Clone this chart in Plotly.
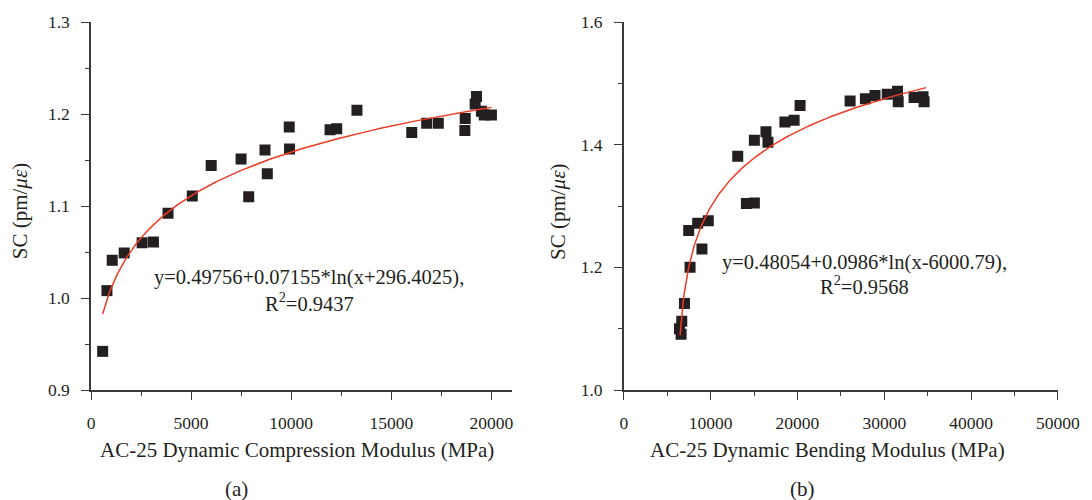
import numpy as np
import plotly.graph_objects as go

# ---------- data ----------
a_modulus = [582, 796, 1060, 1657, 2553, 3118, 3847, 5058, 6003, 7496, 7877, 8690,
             8806, 9900, 9916, 11940, 12272, 13283, 16020, 16766, 17346, 18690,
             18672, 19253, 19186, 19500, 19640, 20000]
a_sc = [0.942, 1.008, 1.041, 1.049, 1.060, 1.061, 1.092, 1.111, 1.144, 1.151, 1.110, 1.161,
        1.135, 1.186, 1.162, 1.183, 1.184, 1.204, 1.180, 1.190, 1.190, 1.195,
        1.182, 1.219, 1.211, 1.203, 1.199, 1.199]

b_modulus = [6600, 6410, 6675, 6985, 7630, 7477, 8507, 9000, 9733, 13122, 14118, 15034,
             15034, 16370, 16600, 18550, 19614, 20300, 26060, 27820, 28930, 30340,
             31520, 31600, 33430, 34460, 34580]
b_sc = [1.091, 1.100, 1.112, 1.141, 1.200, 1.260, 1.272, 1.230, 1.276, 1.381, 1.304, 1.305,
        1.407, 1.421, 1.404, 1.437, 1.440, 1.464, 1.471, 1.475, 1.480, 1.482,
        1.487, 1.470, 1.477, 1.478, 1.470]

# fitted equations as printed on the chart: y = p0 + p1*ln(x + p2)
a_fit = (0.49756, 0.07155, 296.4025)
b_fit = (0.48054, 0.0986, -6000.79)
a_fit_range = (582, 20000)
b_fit_range = (6480, 34800)

a_eq = "y=0.49756+0.07155*ln(x+296.4025),"
a_r2 = "R<sup>2</sup>=0.9437"
b_eq = "y=0.48054+0.0986*ln(x-6000.79),"
b_r2 = "R<sup>2</sup>=0.9568"

a_xtitle = "AC-25 Dynamic Compression Modulus (MPa)"
b_xtitle = "AC-25 Dynamic Bending Modulus (MPa)"
ytitle = "SC (pm/<i>με</i>)"
captions = ["(a)", "(b)"]

# ---------- figure ----------
FONT = "Liberation Serif"
INK = "#231f20"
RED = "#ee3b24"
AX = "#3a3a3a"

# plot area in pixels: x 91..1062, y 18..390
L, R, T, B = 91, 1062, 18, 390
def px(xp):
    return (xp - L) / (R - L)
def py(yp):
    return (B - yp) / (B - T)

def fit_curve(p, rng):
    xs = np.linspace(rng[0], rng[1], 300)
    return xs, p[0] + p[1] * np.log(xs + p[2])

fig = go.Figure()

marker = dict(symbol="square", size=11, color=INK, line=dict(width=0))
fig.add_trace(go.Scatter(x=a_modulus, y=a_sc, mode="markers", marker=marker,
                         xaxis="x", yaxis="y", showlegend=False))
xa, ya = fit_curve(a_fit, a_fit_range)
fig.add_trace(go.Scatter(x=xa, y=ya, mode="lines", line=dict(color=RED, width=1.5),
                         xaxis="x", yaxis="y", showlegend=False))
fig.add_trace(go.Scatter(x=b_modulus, y=b_sc, mode="markers", marker=marker,
                         xaxis="x2", yaxis="y2", showlegend=False))
xb, yb = fit_curve(b_fit, b_fit_range)
fig.add_trace(go.Scatter(x=xb, y=yb, mode="lines", line=dict(color=RED, width=1.5),
                         xaxis="x2", yaxis="y2", showlegend=False))

axis_common = dict(showline=True, linecolor=AX, linewidth=1.5, ticks="outside",
                   ticklen=8, tickwidth=1.2, tickcolor=AX, showgrid=False,
                   zeroline=False, tickfont=dict(family=FONT, size=17.5, color=INK),
                   mirror=False, ticklabelstandoff=8)
minor_common = dict(ticks="outside", ticklen=4, tickwidth=1.2, tickcolor=AX,
                    showgrid=False)

fig.update_layout(
    width=1092, height=500,
    paper_bgcolor="white", plot_bgcolor="white",
    margin=dict(l=L, r=1092 - R, t=T, b=500 - B),
    font=dict(family=FONT, size=17, color=INK),
    xaxis=dict(domain=[0, px(514)], range=[0, 21040], dtick=5000, tick0=0, tickformat="d",
               minor=dict(dtick=2500, **minor_common), anchor="y", **axis_common),
    yaxis=dict(domain=[0, 1], range=[0.9, 1.3], dtick=0.1, tick0=0.9, tickformat=".1f",
               minor=dict(dtick=0.05, **minor_common), anchor="x", **axis_common),
    xaxis2=dict(domain=[px(626), 1], range=[0, 50000], dtick=10000, tick0=0, tickformat="d",
                minor=dict(dtick=5000, **minor_common), anchor="y2", **axis_common),
    yaxis2=dict(domain=[0, 1], range=[1.0, 1.6], dtick=0.2, tick0=1.0, tickformat=".1f",
                minor=dict(dtick=0.1, **minor_common), anchor="x2", **axis_common),
)

ann_font = dict(family=FONT, size=20.5, color=INK)
title_font = dict(family=FONT, size=21, color=INK)

# fit equations
fig.add_annotation(x=10895, y=1.0223, xref="x", yref="y", text=a_eq, showarrow=False,
                   font=ann_font, xanchor="center", yanchor="middle")
fig.add_annotation(x=10895, y=0.9954, xref="x", yref="y", text=a_r2, showarrow=False,
                   font=ann_font, xanchor="center", yanchor="middle")
fig.add_annotation(x=27743, y=1.2084, xref="x2", yref="y2", text=b_eq, showarrow=False,
                   font=ann_font, xanchor="center", yanchor="middle")
fig.add_annotation(x=27743, y=1.1708, xref="x2", yref="y2", text=b_r2, showarrow=False,
                   font=ann_font, xanchor="center", yanchor="middle")

# axis titles
fig.add_annotation(x=px(298), y=py(451), xref="paper", yref="paper", text=a_xtitle,
                   showarrow=False, font=title_font, xanchor="center", yanchor="middle")
fig.add_annotation(x=px(831), y=py(451), xref="paper", yref="paper", text=b_xtitle,
                   showarrow=False, font=title_font, xanchor="center", yanchor="middle")
fig.add_annotation(x=px(20), y=py(209), xref="paper", yref="paper", text=ytitle,
                   textangle=-90, showarrow=False, font=title_font,
                   xanchor="center", yanchor="middle")
fig.add_annotation(x=px(560), y=py(210), xref="paper", yref="paper", text=ytitle,
                   textangle=-90, showarrow=False, font=title_font,
                   xanchor="center", yanchor="middle")

# sub-figure captions
fig.add_annotation(x=px(237), y=py(490), xref="paper", yref="paper", text=captions[0],
                   showarrow=False, font=title_font, xanchor="center", yanchor="middle")
fig.add_annotation(x=px(805), y=py(490), xref="paper", yref="paper", text=captions[1],
                   showarrow=False, font=title_font, xanchor="center", yanchor="middle")

fig.write_html("out.html", config={"displayModeBar": False},
               post_script="document.body.style.margin='0';document.body.style.padding='0';")
